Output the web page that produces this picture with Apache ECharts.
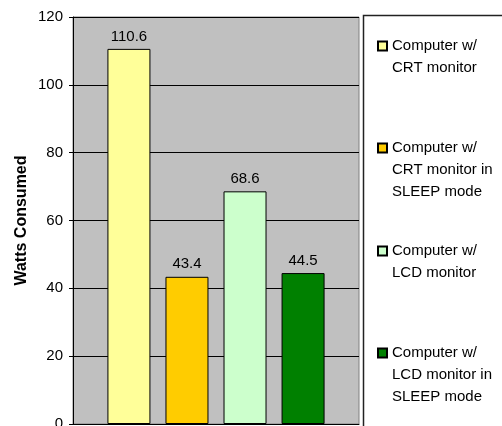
<!DOCTYPE html>
<html>
<head>
<meta charset="utf-8">
<script src="https://cdn.jsdelivr.net/npm/echarts@6/dist/echarts.min.js"></script>
<style>
  html, body { margin: 0; padding: 0; background: #fff; }
  #chart { width: 502px; height: 426px; }
</style>
</head>
<body>
<div id="chart"></div>
<script>
// Power draw of a desktop computer with different monitors and sleep states
const seriesNames = [
  'Computer w/\nCRT monitor',
  'Computer w/\nCRT monitor in\nSLEEP mode',
  'Computer w/\nLCD monitor',
  'Computer w/\nLCD monitor in\nSLEEP mode'
];
const wattValues = [110.6, 43.4, 68.6, 44.5];
const barColors = ['#FFFF99', '#FFCC00', '#CCFFCC', '#008000'];
const categories = [''];
const yAxisTitle = 'Watts Consumed';

const FONT = '"Liberation Sans", Arial, sans-serif';
const LINE_H = 22;

// One legend component per series; blank lines are prepended so the
// marker (centred on the text block) lines up with the first text line.
const legendFirstLine = [46, 148, 251, 353];
const legends = seriesNames.map((name, i) => {
  const lines = name.split('\n').length;
  return {
    data: [name],
    orient: 'vertical',
    left: 377,
    top: legendFirstLine[i] - (2 * lines - 1) * LINE_H / 2,
    padding: 0,
    itemWidth: 9,
    itemHeight: 9,
    itemGap: 0,
    selectedMode: false,
    icon: 'rect',
    formatter: n => '\n'.repeat(lines - 1) + n,
    textStyle: {
      fontFamily: FONT,
      fontSize: 15,
      color: '#000',
      lineHeight: LINE_H
    }
  };
});

const series = seriesNames.map((name, i) => ({
  name: name,
  type: 'bar',
  data: [wattValues[i]],
  barWidth: 43,
  barGap: '35%',
  itemStyle: { color: barColors[i], borderColor: '#000', borderWidth: 1 },
  label: {
    show: true,
    position: 'top',
    distance: 5,
    fontFamily: FONT,
    fontSize: 15,
    color: '#000',
    formatter: p => p.value.toFixed(1)
  },
  animation: false
}));

const chart = echarts.init(document.getElementById('chart'), null, { renderer: 'canvas' });
chart.setOption({
  backgroundColor: '#fff',
  animation: false,
  textStyle: { fontFamily: FONT },
  graphic: [{
    // legend frame
    type: 'rect',
    z: -10,
    shape: { x: 363.5, y: 15.5, width: 200, height: 500 },
    style: { fill: '#fff', stroke: '#222', lineWidth: 1.5 }
  }],
  legend: legends,
  grid: {
    left: 73, top: 17, right: 143, bottom: 2,
    outerBoundsMode: 'none',
    containLabel: false,
    show: true,
    backgroundColor: '#C0C0C0',
    borderColor: '#808080',
    borderWidth: 1
  },
  xAxis: {
    type: 'category',
    data: categories,
    axisLine: { lineStyle: { color: '#000' } },
    axisTick: { show: false },
    axisLabel: { show: false }
  },
  yAxis: {
    type: 'value',
    min: 0,
    max: 120,
    interval: 20,
    name: yAxisTitle,
    nameLocation: 'middle',
    nameRotate: 90,
    nameGap: 43,
    nameMoveOverlap: false,
    nameTextStyle: { fontFamily: FONT, fontSize: 16, fontWeight: 'bold', color: '#000' },
    axisLine: { show: true, lineStyle: { color: '#000' } },
    axisTick: { show: true, length: 4, lineStyle: { color: '#000' } },
    axisLabel: { fontFamily: FONT, fontSize: 15, color: '#000', margin: 10 },
    splitLine: { lineStyle: { color: '#000', width: 1 } }
  },
  series: series
});
</script>
</body>
</html>
